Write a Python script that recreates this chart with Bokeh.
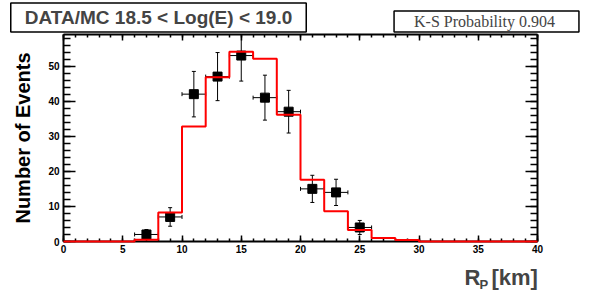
import math
from bokeh.plotting import figure
from bokeh.layouts import column
from bokeh.models import (Range1d, LinearAxis, SingleIntervalTicker, Label, Whisker,
                          TeeHead, ColumnDataSource)
from bokeh.embed import file_html
from bokeh.resources import INLINE

# ---- data ----
bin_edges = [0, 2, 4, 6, 8, 10, 12, 14, 16, 18, 20, 22, 24, 26, 28, 30, 32, 34, 36, 38, 40]
mc_values = [0, 0, 0, 0.5, 8.3, 32.8, 46.8, 54.1, 52.1, 36.1, 17.6, 8.6, 3.3, 1.0, 0.4, 0, 0, 0, 0, 0]
data_x = [7, 9, 11, 13, 15, 17, 19, 21, 23, 25]
data_y = [2, 7, 42, 47, 53, 41, 37, 15, 14, 4]
title_text = "DATA/MC 18.5 < Log(E) < 19.0"
ks_text = "K-S Probability  0.904"
y_label = "Number of Events"

W = 590
TOP_H, MAIN_H, BOT_H = 33, 226, 34


def strip(h, y0):
    f = figure(width=W, height=h, output_backend="svg", toolbar_location=None,
               x_range=Range1d(0, W), y_range=Range1d(y0 + h, y0),
               min_border=0, x_axis_location=None, y_axis_location=None,
               frame_align=False)
    f.grid.visible = False
    f.outline_line_color = None
    f.border_fill_color = "white"
    f.background_fill_color = "white"
    return f


# ---- top strip: title box and K-S box ----
top = strip(TOP_H, 0)
top.add_layout(Label(x=158, y=17, text=title_text,
                     text_font="Liberation Sans", text_font_style="bold", text_font_size="19px",
                     text_align="center", text_baseline="middle",
                     border_line_color="black", border_line_width=1.5, background_fill_color="white",
                     padding=dict(left=14, right=14, top=4, bottom=4)))
top.add_layout(Label(x=486, y=21, text=ks_text,
                     text_font="Liberation Serif", text_font_size="16px",
                     text_align="center", text_baseline="middle",
                     border_line_color="black", border_line_width=1.5, background_fill_color="white",
                     padding=dict(left=20, right=20, top=2, bottom=2)))

# ---- main plot ----
p = figure(width=W, height=MAIN_H, output_backend="svg", toolbar_location=None,
           x_range=Range1d(0, 40), y_range=Range1d(0, 59),
           min_border_left=63, min_border_right=53, min_border_top=1, min_border_bottom=18,
           x_axis_location=None, y_axis_location=None, frame_align=False)
p.grid.visible = False
p.outline_line_color = None
p.background_fill_color = "white"
p.border_fill_color = "white"


def mk_axis(ticker, show_labels, major_in, minor_in):
    ax = LinearAxis(ticker=ticker)
    ax.axis_line_width = 2
    ax.axis_line_color = "black"
    ax.major_tick_in = major_in
    ax.major_tick_out = 0
    ax.minor_tick_in = minor_in
    ax.minor_tick_out = 0
    ax.major_tick_line_width = 1.5
    ax.minor_tick_line_width = 1.5
    if show_labels:
        ax.major_label_text_font = "Liberation Sans"
        ax.major_label_text_font_style = "bold"
        ax.major_label_text_font_size = "10px"
        ax.major_label_text_color = "black"
    else:
        ax.major_label_text_font_size = "0px"
        ax.major_label_text_alpha = 0
        ax.major_label_standoff = 0
    return ax


xt = lambda: SingleIntervalTicker(interval=5, num_minor_ticks=5)
yt = lambda: SingleIntervalTicker(interval=10, num_minor_ticks=5)

bx = mk_axis(xt(), True, 6, 3); bx.major_label_standoff = 3
tx = mk_axis(xt(), False, 6, 3)
ly = mk_axis(yt(), True, 12, 7); ly.major_label_standoff = 4
ly.axis_label = y_label
ly.axis_label_text_font = "Liberation Sans"
ly.axis_label_text_font_style = "bold"
ly.axis_label_text_font_size = "20px"
ly.axis_label_text_color = "black"
ly.axis_label_standoff = 11
ry = mk_axis(yt(), False, 12, 7)
p.add_layout(bx, "below")
p.add_layout(tx, "above")
p.add_layout(ly, "left")
p.add_layout(ry, "right")

# MC histogram
step_y = mc_values + [mc_values[-1]]
r = p.step(x=bin_edges, y=step_y, mode="after", line_color="#ff0000", line_width=2)
r.level = "overlay"

# data points with errors
src = ColumnDataSource(dict(
    x=data_x, y=data_y,
    ylo=[v - math.sqrt(v) for v in data_y], yhi=[v + math.sqrt(v) for v in data_y],
    xlo=[v - 1 for v in data_x], xhi=[v + 1 for v in data_x]))
p.add_layout(Whisker(source=src, base="x", lower="ylo", upper="yhi", dimension="height",
                     line_color="black", line_width=1,
                     upper_head=TeeHead(size=4, line_color="black", line_width=1),
                     lower_head=TeeHead(size=4, line_color="black", line_width=1)))
p.add_layout(Whisker(source=src, base="y", lower="xlo", upper="xhi", dimension="width",
                     line_color="black", line_width=1,
                     upper_head=TeeHead(size=4, line_color="black", line_width=1),
                     lower_head=TeeHead(size=4, line_color="black", line_width=1)))
p.scatter(x="x", y="y", source=src, marker="square", size=9, fill_color="black", line_color="black")

# ---- bottom strip: x axis title R_P [km] ----
y0 = TOP_H + MAIN_H
bot = strip(BOT_H, y0)
bot.add_layout(Label(x=464, y=277, text="R", text_font="Liberation Sans", text_font_style="bold",
                     text_font_size="22px", text_align="left", text_baseline="middle"))
bot.add_layout(Label(x=479, y=284, text="P", text_font="Liberation Sans", text_font_style="bold",
                     text_font_size="13px", text_align="left", text_baseline="middle"))
bot.add_layout(Label(x=491, y=277, text="[km]", text_font="Liberation Sans", text_font_style="bold",
                     text_font_size="22px", text_align="left", text_baseline="middle"))

layout = column(top, p, bot, spacing=0)

out = open("out.html", "w")
out.write(file_html(layout, INLINE))
out.close()
